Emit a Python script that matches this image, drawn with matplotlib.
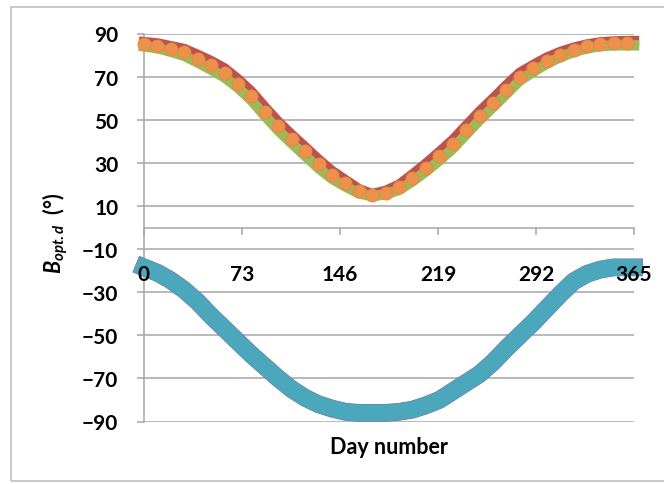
import matplotlib.pyplot as plt
from matplotlib.patches import Rectangle

plt.rcParams['font.family'] = ['Lato', 'DejaVu Sans']
plt.rcParams['mathtext.fontset'] = 'custom'
plt.rcParams['mathtext.rm'] = 'Lato:bold'
plt.rcParams['mathtext.it'] = 'Lato:italic:bold'
plt.rcParams['mathtext.bf'] = 'Lato:bold'

# Datos (dia del año y angulo optimo en grados)
dias = [0, 10, 20, 30, 40, 50, 60, 70, 80, 90, 100, 110, 120, 130, 140, 150, 160, 170, 180,
        190, 200, 210, 220, 230, 240, 250, 260, 270, 280, 290, 300, 310, 320, 330, 340, 350, 360, 365]

rojo = [86.0, 85.4, 84.1, 82.8, 80.1, 77.2, 73.8, 68.8, 63.0, 55.8, 49.0, 43.0, 37.3, 31.5, 26.2,
        22.0, 17.8, 15.5, 17.0, 19.8, 24.6, 29.6, 35.0, 40.6, 47.2, 53.8, 59.8, 66.0, 71.8, 75.4,
        78.8, 81.4, 83.4, 84.9, 85.9, 86.3, 86.5, 86.5]

verde = [84.0, 83.2, 81.5, 79.6, 76.5, 73.2, 69.6, 64.8, 59.0, 51.8, 45.0, 39.0, 33.3, 27.5, 22.6,
         19.0, 15.8, 14.5, 15.4, 17.4, 21.4, 26.0, 31.0, 36.6, 43.2, 49.8, 55.8, 62.0, 68.2, 72.2,
         76.0, 79.0, 81.4, 83.1, 84.1, 84.5, 84.5, 84.5]

naranja = [85.0, 84.3, 82.8, 81.2, 78.3, 75.2, 71.7, 66.8, 61.0, 53.8, 47.0, 41.0, 35.3, 29.5, 24.4,
           20.5, 16.8, 15.0, 16.2, 18.6, 23.0, 27.8, 33.0, 38.6, 45.2, 51.8, 57.8, 64.0, 70.0, 73.8,
           77.4, 80.2, 82.4, 84.0, 85.0, 85.4, 85.5, 85.5]

turquesa = [-18.5, -21.0, -24.5, -29.0, -34.5, -41.0, -47.0, -53.0, -59.0, -64.5, -70.0, -75.0,
            -79.0, -82.0, -84.0, -85.5, -86.0, -86.0, -86.0, -85.5, -84.5, -82.5, -80.0, -76.0,
            -72.0, -68.0, -62.5, -56.0, -50.0, -44.0, -37.5, -31.0, -25.0, -21.5, -19.5, -18.5,
            -18.5, -18.5]

xticks = [0, 73, 146, 219, 292, 365]
yticks = [-90, -70, -50, -30, -10, 10, 30, 50, 70, 90]

fig = plt.figure(figsize=(6.64, 4.85), dpi=100)
ax = fig.add_axes([144 / 664, 62.5 / 485, 490 / 664, 388 / 485])
ax.set_axisbelow(False)

gris = '#A6A6A6'
for y in yticks:
    ax.axhline(y, color=gris, lw=1.1, zorder=0)

ax.plot(dias, rojo, color='#C0504D', lw=7.5, solid_capstyle='projecting', clip_on=False, zorder=2)
ax.plot(dias, verde, color='#9BBB59', lw=7.5, solid_capstyle='projecting', clip_on=False, zorder=2)
ax.plot(dias[:-1], naranja[:-1], 'o', color='#EB914A', ms=9.5, mec='#E0883F', mew=0.5,
        clip_on=False, zorder=2.2)
ax.plot(dias, turquesa, color='#8064A2', lw=12.8, solid_capstyle='projecting', clip_on=False, zorder=2)
ax.plot(dias, turquesa, color='#4BA8BC', lw=12.2, solid_capstyle='projecting', clip_on=False, zorder=2)

ax.set_xlim(0, 365)
ax.set_ylim(-90, 90)
ax.set_xticks(xticks)
ax.set_yticks(yticks)

ax.spines['top'].set_visible(False)
ax.spines['right'].set_visible(False)
ax.spines['bottom'].set_position(('data', 0))
ax.spines['bottom'].set_color(gris)
ax.spines['left'].set_color(gris)
ax.spines['bottom'].set_linewidth(1.1)
ax.spines['left'].set_linewidth(1.1)
ax.spines['bottom'].set_zorder(0.5)
ax.spines['left'].set_zorder(0.5)

ax.tick_params(axis='x', direction='out', length=5, width=1.1, color=gris, pad=21,
               labelsize=15)
ax.tick_params(axis='y', direction='out', length=5, width=1.1, color=gris, pad=13.5,
               labelsize=15)
for t in ax.get_xticklabels() + ax.get_yticklabels():
    t.set_fontweight('bold')

ax.text(0.5, -0.064, 'Day number', transform=ax.transAxes, ha='center', va='center',
        fontsize=15.5, fontweight='bold')
fig.text(55 / 664, 1 - 233 / 485, r'$B_{opt.d}$  (°)', rotation=90, ha='center', va='center',
         fontsize=15.5, fontweight='bold')

fig.add_artist(Rectangle((11 / 664, 3 / 485), 1.0, 474 / 485, transform=fig.transFigure,
                         fill=False, edgecolor='#BFBFBF', lw=1.2))

fig.savefig('out.png', dpi=100)
